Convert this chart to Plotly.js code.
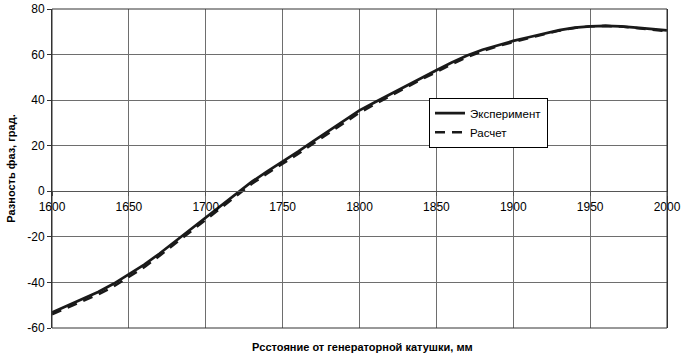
<!DOCTYPE html>
<html>
<head>
<meta charset="utf-8">
<script src="https://cdn.plot.ly/plotly-3.0.1.min.js"></script>
<style>html,body{margin:0;padding:0;background:#fff;}#chart{width:684px;height:357px;}</style>
</head>
<body>
<div id="chart"></div>
<script>
const distance = [1600,1610,1620,1630,1640,1650,1660,1670,1680,1690,1700,1710,1720,1730,1740,1750,1760,1770,1780,1790,1800,1810,1820,1830,1840,1850,1860,1870,1880,1890,1900,1910,1920,1930,1940,1950,1960,1970,1980,1990,2000];
const experiment = [-53.2,-50.3,-47.3,-44.2,-40.6,-36.5,-32.2,-27.3,-22.0,-16.8,-11.5,-6.0,-0.8,4.2,8.7,13.0,17.4,22.0,26.6,31.1,35.5,39.1,42.6,46.4,49.8,53.1,56.5,59.6,62.1,64.2,66.0,67.6,69.2,70.7,71.8,72.4,72.6,72.4,71.8,71.2,70.6];
const calculation = [-54.0,-51.2,-48.3,-45.3,-41.8,-37.7,-33.3,-28.3,-23.0,-17.7,-12.3,-6.9,-1.7,3.3,7.8,12.0,16.4,21.0,25.6,30.1,34.5,38.2,41.8,45.6,49.0,52.3,55.8,58.9,61.5,63.7,65.5,67.2,68.9,70.5,71.7,72.4,72.6,72.3,71.6,71.0,70.3];
const seriesNames = ['Эксперимент','Расчет'];
const xTitle = 'Рсстояние от генераторной катушки, мм';
const yTitle = 'Разность фаз, град.';
const xTicks = [1600,1650,1700,1750,1800,1850,1900,1950,2000];
const yTicks = [-60,-40,-20,0,20,40,60,80];

const yMin = -60, yMax = 80;
const traces = [
  {x: distance, y: experiment, name: seriesNames[0], mode: 'lines', type: 'scatter',
   line: {color: '#1a1a1a', width: 2.7, dash: 'solid'}},
  {x: distance, y: calculation, name: seriesNames[1], mode: 'lines', type: 'scatter',
   line: {color: '#1a1a1a', width: 2.5, dash: '10px,7px'}}
];
const layout = {
  width: 684, height: 357,
  margin: {l: 52, r: 17, t: 9, b: 29},
  paper_bgcolor: '#fff', plot_bgcolor: '#fff',
  font: {family: 'Liberation Sans, Arial, sans-serif', size: 12, color: '#000'},
  showlegend: true,
  legend: {x: 0.613, y: 0.722, xanchor: 'left', yanchor: 'top',
    bgcolor: '#fff', bordercolor: '#000', borderwidth: 1,
    font: {size: 11.5, color: '#000'}, tracegroupgap: 0,
    entrywidth: 92, entrywidthmode: 'pixels'},
  xaxis: {range: [1600, 2000], tickvals: xTicks, ticktext: xTicks.map(String),
    anchor: 'free', position: (0 - yMin) / (yMax - yMin),
    showgrid: true, gridcolor: '#6e6e6e', gridwidth: 1,
    showline: true, linecolor: '#555', linewidth: 1,
    ticks: 'outside', ticklen: 4, tickcolor: '#555',
    zeroline: false, tickfont: {size: 12, color: '#000'}},
  yaxis: {range: [yMin, yMax], tickvals: yTicks, ticktext: yTicks.map(String),
    showgrid: true, gridcolor: '#6e6e6e', gridwidth: 1,
    showline: true, linecolor: '#333', linewidth: 1, mirror: true,
    ticks: 'outside', ticklen: 4, tickcolor: '#333',
    zeroline: false, tickfont: {size: 12, color: '#000'}},
  shapes: [{type: 'rect', xref: 'paper', yref: 'paper', x0: 0, x1: 1, y0: 0, y1: 1,
    line: {color: '#333', width: 1}}],
  annotations: [
    {text: xTitle, xref: 'paper', yref: 'paper', x: 0.505, y: -0.061, xanchor: 'center', yanchor: 'middle',
     showarrow: false, font: {size: 11, color: '#000', family: 'Liberation Sans, Arial, sans-serif', weight: 'bold'}},
    {text: yTitle, xref: 'paper', yref: 'paper', x: -0.068, y: 0.5, xanchor: 'center', yanchor: 'middle',
     textangle: -90, showarrow: false, font: {size: 11, color: '#000', family: 'Liberation Sans, Arial, sans-serif', weight: 'bold'}}
  ]
};
Plotly.newPlot('chart', traces, layout, {staticPlot: true, displayModeBar: false});
</script>
</body>
</html>
